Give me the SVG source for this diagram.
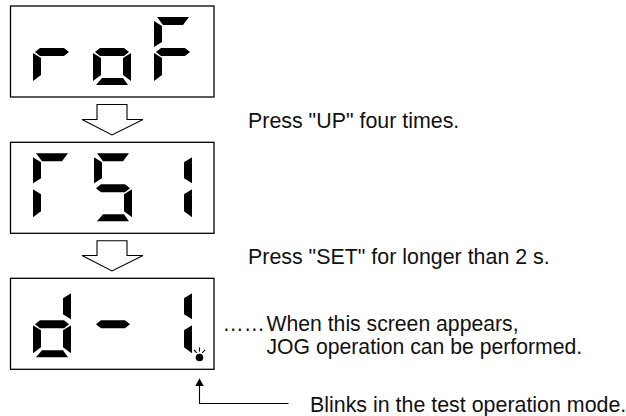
<svg xmlns="http://www.w3.org/2000/svg" xmlns:xlink="http://www.w3.org/1999/xlink" width="626" height="416" viewBox="0 0 626 416">
<style>
.box{fill:#fff;stroke:#000;stroke-width:1.3}
.seg{fill:#000}
.arr{fill:#fff;stroke:#000;stroke-width:1.1;stroke-linejoin:miter}
.ln{fill:none;stroke:#000;stroke-width:1.1}
.t{font-family:"Liberation Sans",Arial,sans-serif;font-size:21.4px;fill:#111}
.t2{font-size:21.2px}
</style>
<defs>
<polygon id="sa" points="3,0 35,0 29,8 9,8"/>
<polygon id="sf" points="0,4 8,9 8,25 0,30"/>
<polygon id="sb" points="38,4 38,30 30,25 30,9"/>
<polygon id="sg" points="2,35 7,31 31,31 36,35 31,39 7,39"/>
<polygon id="se" points="0,36 8,41 8,58 0,64"/>
<polygon id="sc" points="38,36 38,64 30,58 30,41"/>
<polygon id="sd" points="9,61 30,61 35,68 3,68"/>
</defs>
<rect width="626" height="416" fill="#fff"/>

<g id="display1">
<rect class="box" x="10.5" y="6" width="203.5" height="91"/>
<g class="seg" transform="translate(33,17)"><use href="#sg"/><use href="#se"/></g>
<g class="seg" transform="translate(93,17)"><use href="#sg"/><use href="#se"/><use href="#sc"/><use href="#sd"/></g>
<g class="seg" transform="translate(154,17)"><use href="#sa"/><use href="#sf"/><use href="#sg"/><use href="#se"/></g>
</g>

<g id="display2">
<rect class="box" x="10.5" y="142.3" width="203.5" height="91"/>
<g class="seg" transform="translate(33,153.3)"><use href="#sa"/><use href="#sf"/><use href="#se"/></g>
<g class="seg" transform="translate(94,153.3)"><use href="#sa"/><use href="#sf"/><use href="#sg"/><use href="#sc"/><use href="#sd"/></g>
<g class="seg" transform="translate(154,153.3)"><use href="#sb"/><use href="#sc"/></g>
</g>

<g id="display3">
<rect class="box" x="10.5" y="278.3" width="203.5" height="91"/>
<g class="seg" transform="translate(33,289.3)"><use href="#sb"/><use href="#sg"/><use href="#se"/><use href="#sc"/><use href="#sd"/></g>
<g class="seg" transform="translate(94,289.3)"><use href="#sg"/></g>
<g class="seg" transform="translate(154,289.3)"><use href="#sb"/><use href="#sc"/></g>
<circle cx="199.5" cy="357.5" r="3.8" fill="#000"/>
<g class="ln" stroke-width="1">
<line x1="199.5" y1="347.3" x2="199.5" y2="351.6"/>
<line x1="194" y1="350" x2="196.8" y2="352.8"/>
<line x1="205" y1="350" x2="202.2" y2="352.8"/>
</g>
</g>

<g id="label-up"><text class="t" x="248" y="127.7">Press "UP" four times.</text></g>
<g id="label-set"><text class="t" x="248" y="263.7">Press "SET" for longer than 2 s.</text></g>
<g id="label-jog"><text class="t t2" x="222.5" y="331.3">……<tspan x="266.5">When this screen appears,</tspan></text>
<text class="t t2" x="266.5" y="353.6">JOG operation can be performed.</text></g>
<g id="label-blink"><text class="t" x="310" y="411.7">Blinks in the test operation mode.</text></g>

<g id="connectors">
<polygon class="arr" points="97,104.5 127,104.5 127,119.5 143,119.5 112,135 82,119.5 97,119.5"/>
<polygon class="arr" points="97,240.7 127,240.7 127,255.5 143,255.5 112,271 82,255.5 97,255.5"/>
<polyline class="ln" points="199.5,385 199.5,403.5 288.5,403.5"/>
<polygon points="199.5,378.3 195.3,386 203.7,386" fill="#000"/>
</g>
</svg>
